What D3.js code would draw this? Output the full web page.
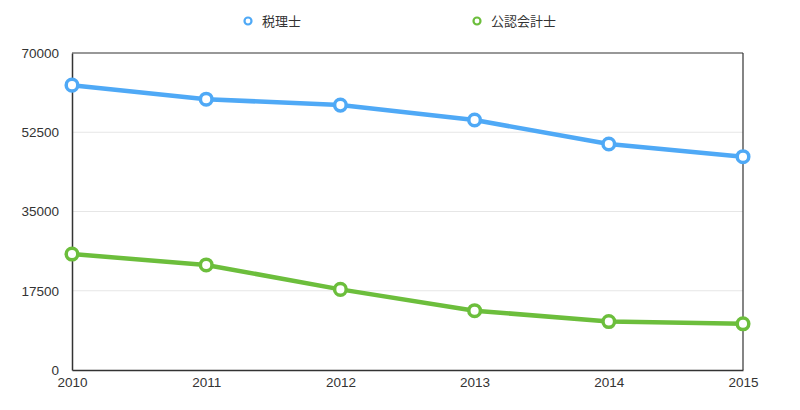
<!DOCTYPE html>
<html><head><meta charset="utf-8">
<script src="https://cdn.jsdelivr.net/npm/d3@7/dist/d3.min.js"></script>
<style>body{margin:0;background:#fff;font-family:"Noto Sans CJK JP","Noto Sans",sans-serif;}</style>
</head><body><svg id="c" width="800" height="410"></svg>
<script>
const years = ["2010","2011","2012","2013","2014","2015"];
const seriesNames = ["税理士","公認会計士"];
const zeirishi = [62900, 59800, 58500, 55200, 49900, 47100];
const kaikeishi = [25600, 23200, 17800, 13100, 10700, 10200];
const yTicks = [0, 17500, 35000, 52500, 70000];
const colors = ["#4fa9f6", "#6cbe3c"];

const svg = d3.select("#c");
const L = 72, R = 743, T = 53, B = 370;
const x = d3.scalePoint().domain(years).range([L, R]);
const y = d3.scaleLinear().domain([0, 70000]).range([B, T]);
const numFont = "'Liberation Sans','Noto Sans',sans-serif";

// gridlines
svg.append("g").selectAll("line").data(yTicks.filter(d => d > 0 && d < 70000)).join("line")
  .attr("x1", L).attr("x2", R).attr("y1", d => y(d)).attr("y2", d => y(d))
  .attr("stroke", "#e6e6e6").attr("stroke-width", 1);

// frame
const frame = "#333";
svg.append("line").attr("x1", L).attr("x2", R).attr("y1", T).attr("y2", T).attr("stroke", frame).attr("stroke-width", 1.2);
svg.append("line").attr("x1", R).attr("x2", R).attr("y1", T).attr("y2", B).attr("stroke", frame).attr("stroke-width", 1.2);

// axes
const yAxis = svg.append("g").attr("transform", `translate(${L},0)`)
  .call(d3.axisLeft(y).tickValues(yTicks).tickSize(0).tickPadding(13).tickFormat(d => d));
yAxis.select(".domain").attr("stroke", frame).attr("stroke-width", 1.5);
yAxis.selectAll("text").attr("font-size", 13.5).attr("fill", "#333").attr("font-family", numFont);

const xAxis = svg.append("g").attr("transform", `translate(0,${B})`)
  .call(d3.axisBottom(x).tickSize(0).tickPadding(7));
xAxis.select(".domain").attr("stroke", frame).attr("stroke-width", 1.5);
xAxis.selectAll("text").attr("font-size", 13.5).attr("fill", "#333").attr("font-family", numFont);

// lines
const data = [zeirishi, kaikeishi];
const line = d3.line().x((d, i) => x(years[i])).y(d => y(d));
data.forEach((s, k) => {
  svg.append("path").datum(s).attr("d", line).attr("fill", "none")
    .attr("stroke", colors[k]).attr("stroke-width", 4.5).attr("stroke-linejoin", "round");
});
data.forEach((s, k) => {
  svg.append("g").selectAll("circle").data(s).join("circle")
    .attr("cx", (d, i) => x(years[i])).attr("cy", d => y(d)).attr("r", 5.8)
    .attr("fill", "#fff").attr("stroke", colors[k]).attr("stroke-width", 3.5);
});

// legend
const legendX = [248, 477];
seriesNames.forEach((n, k) => {
  const g = svg.append("g").attr("transform", `translate(${legendX[k]},21)`);
  g.append("circle").attr("r", 3.5).attr("fill", "#fff").attr("stroke", colors[k]).attr("stroke-width", 2.2);
  g.append("text").attr("x", 14).attr("dy", "0.35em").attr("font-size", 13).attr("fill", "#333").text(n);
});
</script></body></html>
